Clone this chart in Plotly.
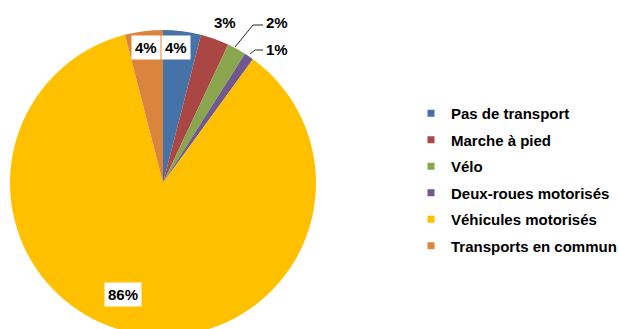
import plotly.graph_objects as go

# Modal share (%)
categories = ["Pas de transport", "Marche à pied", "Vélo",
              "Deux-roues motorisés", "Véhicules motorisés", "Transports en commun"]
shares = [4, 3, 2, 1, 86, 4]
colors = ["#4572A7", "#AA4643", "#89A54E", "#71588F", "#FFC000", "#DB843D"]

W, H = 619, 345
FONT = dict(family="Liberation Sans", size=15, color="#000000", weight="bold")


def px(x):
    return x / W


def py(y):
    return 1 - y / H


# Pie geometry in pixels (center and radius)
cx, cy, r = 163, 183, 153

fig = go.Figure()
fig.add_trace(go.Pie(
    labels=categories, values=shares, sort=False, direction="clockwise",
    rotation=0, marker=dict(colors=colors, line=dict(width=0)),
    textinfo="none", showlegend=False,
    domain=dict(x=[px(cx - r), px(cx + r)], y=[py(cy + r), py(cy - r)]),
))

# Legend entries
for i, (name, col) in enumerate(zip(categories, colors)):
    fig.add_trace(go.Scatter(
        x=[None], y=[None], mode="markers", name=name, legendgroup=str(i),
        marker=dict(symbol="square", size=7, color=col),
    ))

# Data labels: (pixel center, boxed)
label_pos = [((176, 48), True), ((225, 22), False), ((277, 23), False),
             ((277, 50), False), ((123, 294), True), ((146, 48), True)]
for v, ((lx, ly), boxed) in zip(shares, label_pos):
    fig.add_annotation(
        x=px(lx), y=py(ly), xref="paper", yref="paper", showarrow=False,
        xanchor="center", yanchor="middle",
        text=f"{v}%", font=FONT,
        bgcolor="white" if boxed else "rgba(0,0,0,0)", borderpad=3,
    )

# Leader lines for the small slices
leaders = [[(235, 47), (253, 25), (263, 25)], [(250, 54), (255, 50), (263, 50)]]
for pts in leaders:
    path = "M " + " L ".join(f"{px(x)},{py(y)}" for x, y in pts)
    fig.add_shape(type="path", path=path, xref="paper", yref="paper",
                  line=dict(color="#262626", width=1))

fig.update_layout(
    width=W, height=H, margin=dict(l=0, r=0, t=0, b=0, autoexpand=False),
    paper_bgcolor="white", plot_bgcolor="white",
    xaxis=dict(visible=False), yaxis=dict(visible=False),
    legend=dict(x=px(411), y=py(97), xanchor="left", yanchor="top",
                font=FONT, tracegroupgap=4, itemwidth=30,
                bgcolor="rgba(0,0,0,0)"),
)

fig.write_html("out.html",
               post_script="document.body.style.overflow='hidden';"
                           "document.documentElement.style.overflow='hidden';")
